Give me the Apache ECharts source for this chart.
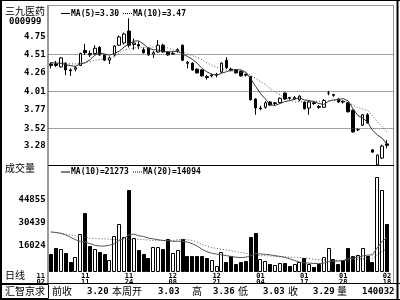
<!DOCTYPE html>
<html><head><meta charset="utf-8">
<script src="https://cdn.jsdelivr.net/npm/echarts@6/dist/echarts.min.js"></script>
<style>html,body{margin:0;padding:0;background:#fff}#c{width:400px;height:300px}</style>
</head><body><div id="c"></div>
<script>
const dates = ['11/02','11/03','11/04','11/05','11/08','11/09','11/10','11/11','11/12','11/15',
'11/16','11/17','11/18','11/19','11/22','11/23','11/24','11/25','11/26','11/29',
'11/30','12/01','12/02','12/03','12/06','12/08','12/09','12/10','12/13','12/14',
'12/15','12/16','12/17','12/20','12/21','12/22','12/23','12/24','12/27','12/28',
'12/29','12/30','12/31','01/04','01/05','01/06','01/07','01/10','01/11','01/12',
'01/13','01/14','01/17','01/18','01/19','01/20','01/21','01/24','01/25','01/26',
'01/28','01/31','02/01','02/02','02/03','02/04','02/07','02/16','02/17','02/18'];
const labelIndex = [0,7,16,25,34,43,52,60,69];
const openP = [4.38,4.38,4.34,4.39,4.30,4.31,4.36,4.56,4.52,4.52,
4.60,4.50,4.43,4.50,4.63,4.66,4.82,4.64,4.64,4.57,
4.59,4.51,4.54,4.63,4.54,4.51,4.55,4.63,4.40,4.39,
4.31,4.30,4.21,4.22,4.23,4.27,4.43,4.31,4.30,4.28,
4.24,4.21,3.91,3.78,3.80,3.87,3.85,3.86,3.99,3.93,
3.91,3.90,3.87,3.79,3.86,3.81,3.80,3.99,3.97,3.91,
3.88,3.86,3.76,3.50,3.56,3.70,3.23,3.03,3.12,3.31];
const closeP = [4.36,4.36,4.46,4.30,4.29,4.33,4.52,4.53,4.50,4.59,
4.50,4.43,4.46,4.62,4.74,4.78,4.63,4.66,4.62,4.53,
4.50,4.53,4.63,4.54,4.50,4.52,4.57,4.43,4.39,4.30,
4.26,4.22,4.20,4.23,4.24,4.39,4.33,4.30,4.26,4.22,
4.23,3.90,3.79,3.79,3.86,3.83,3.86,3.92,3.91,3.92,
3.93,3.95,3.78,3.87,3.85,3.80,3.89,3.99,3.96,3.87,
3.87,3.74,3.47,3.50,3.70,3.59,3.20,3.16,3.28,3.29];
const lowP = [4.32,4.34,4.33,4.23,4.22,4.28,4.35,4.50,4.47,4.50,
4.49,4.42,4.38,4.48,4.62,4.64,4.60,4.57,4.58,4.52,
4.49,4.46,4.53,4.53,4.49,4.50,4.53,4.42,4.32,4.29,
4.25,4.21,4.17,4.20,4.20,4.26,4.31,4.28,4.25,4.21,
4.21,3.89,3.70,3.76,3.78,3.82,3.83,3.85,3.90,3.90,
3.90,3.88,3.77,3.70,3.83,3.78,3.79,3.96,3.94,3.86,
3.85,3.73,3.46,3.48,3.55,3.58,3.19,3.03,3.11,3.25];
const highP = [4.40,4.42,4.47,4.40,4.32,4.35,4.53,4.65,4.56,4.63,
4.62,4.51,4.48,4.63,4.76,4.80,4.99,4.72,4.68,4.60,
4.60,4.55,4.70,4.65,4.55,4.54,4.59,4.64,4.42,4.40,
4.32,4.31,4.23,4.25,4.26,4.40,4.47,4.33,4.31,4.29,
4.25,4.22,3.92,3.82,3.88,3.88,3.87,3.93,4.00,3.94,
3.95,3.96,3.88,3.88,3.88,3.83,3.91,4.02,3.98,3.92,
3.89,3.87,3.77,3.52,3.71,3.72,3.24,3.17,3.30,3.36];
const volume = [10840,14980,13960,11470,6200,9340,23380,36540,16045,14170,
12290,11030,7000,22300,29800,21900,51100,21000,13500,11000,
8500,15600,15600,13900,20200,11500,13500,20200,10000,10000,
10000,10000,8700,7300,3500,12100,6200,9800,4600,6200,
6800,21500,24400,7900,6600,4800,4100,5400,5200,3700,
4800,6200,8300,4800,3100,4600,9300,14600,7900,4800,
7300,14600,9800,10200,15000,9800,6000,59200,51200,29632];
const ma5 = [4.40,4.39,4.39,4.37,4.356,4.348,4.38,4.394,4.436,4.496,
4.53,4.512,4.498,4.52,4.55,4.606,4.646,4.686,4.688,4.646,
4.59,4.57,4.564,4.546,4.54,4.544,4.552,4.512,4.482,4.442,
4.39,4.32,4.274,4.242,4.228,4.254,4.276,4.296,4.302,4.30,
4.268,4.182,4.08,3.984,3.912,3.832,3.824,3.85,3.876,3.888,
3.908,3.926,3.898,3.89,3.876,3.85,3.838,3.88,3.898,3.902,
3.916,3.886,3.782,3.69,3.656,3.60,3.492,3.43,3.386,3.30];
const ma10 = [4.39,4.39,4.39,4.39,4.38,4.38,4.39,4.40,4.41,4.426,
4.439,4.446,4.446,4.478,4.523,4.568,4.579,4.592,4.604,4.598,
4.598,4.608,4.625,4.617,4.593,4.567,4.561,4.538,4.514,4.491,
4.467,4.436,4.393,4.362,4.335,4.322,4.298,4.285,4.272,4.264,
4.261,4.229,4.188,4.143,4.106,4.05,4.003,3.965,3.93,3.90,
3.87,3.875,3.874,3.883,3.882,3.879,3.882,3.889,3.894,3.889,
3.883,3.862,3.831,3.794,3.779,3.758,3.689,3.606,3.538,3.47];
const volMa10 = [24800,24500,24000,23000,21500,20000,19000,18500,17500,16500,
16000,16000,16500,17500,19500,21000,23000,23500,22500,22000,
21000,20500,20000,19500,19500,19000,19000,19000,18500,17500,
16000,14000,12500,11500,11000,10500,10000,9500,9000,8800,
9000,10000,11500,11000,10800,10500,10000,9500,9000,8000,
7000,6000,5500,5300,5100,5000,5300,6200,6500,6600,
7000,8000,8500,9000,9800,10300,10500,15000,19000,21273];
const volMa20 = [25000,24500,24000,23500,23000,22500,22000,21500,21000,20800,
20500,20500,20300,20200,20000,20000,20000,20200,20200,20000,
19800,19500,19500,19400,19500,19500,20000,20200,20000,19500,
18500,17000,16000,15000,14500,14000,13500,13000,12500,12000,
11500,11000,10500,10000,10000,9800,9500,9300,9200,9000,
9000,8800,8500,8200,7800,7500,7300,7200,7000,7000,
7000,7200,7500,7800,8000,8000,8000,10500,12800,14094];
const priceTicks = [3.28,3.52,3.77,4.01,4.26,4.51,4.75];
const priceGridLines = [3.52,4.01,4.51];
const volTicks = [16024,30439,44855];
const weekSummary = {prevClose:'3.20', weekOpen:'3.03', high:'3.36', low:'3.03', close:'3.29', vol:'140032'};

const MONO = '"DejaVu Sans Mono", monospace';
const CJK = '"Noto Sans CJK SC", sans-serif';
const last = a => a[a.length-1];

const chart = echarts.init(document.getElementById('c'), null, {renderer:'canvas', width:400, height:300});
const candleData = openP.map((o,i)=>[o, closeP[i], lowP[i], highP[i]]);
const volData = volume.map((v,i)=>[i, v, closeP[i] >= openP[i] ? 1 : 0]);
const xData = dates.map((d,i)=> i===0 ? {value:d, textStyle:{align:'right', padding:[0,6,0,0]}} : d);

const L = 48.6, CW = 4.87, N = dates.length + 1;
const W = CW * N;

function txt(x,y,s,font){return {type:'text', x:x, y:y, style:{text:s, font:font, fill:'#000', textVerticalAlign:'middle'}, silent:true, z:10};}
function ln(x1,y1,x2,y2,color,w,dash){return {type:'line', shape:{x1:x1,y1:y1,x2:x2,y2:y2}, style:{stroke:color, lineWidth:w||1, lineDash:dash||null}, silent:true, z:5};}

function renderVol(params, api){
  const i = api.value(0), v = api.value(1), up = api.value(2);
  const top = api.coord([i, v]); const base = api.coord([i, 0]);
  const xc = Math.round(top[0]);
  const yt = Math.round(top[1]) + 0.5; const yb = Math.round(base[1]) - 0.5;
  return {type:'rect', shape:{x:xc-1.5, y:yt, width:3, height:Math.max(0, yb-yt)},
    style:{fill: up ? '#fff' : '#000', stroke:'#000', lineWidth:1}};
}

chart.setOption({
  animation:false,
  backgroundColor:'#fff',
  grid:[
    {left:L, top:6, width:W, height:158.8},
    {left:L, top:165, width:W, height:106.6}
  ],
  xAxis:[
    {type:'category', gridIndex:0, data:dates, max:N-1, boundaryGap:true, axisLine:{show:false}, axisTick:{show:false}, axisLabel:{show:false}, splitLine:{show:false}},
    {type:'category', gridIndex:1, data:xData, max:N-1, boundaryGap:true, axisLine:{show:false}, axisTick:{show:false}, splitLine:{show:false},
     axisLabel:{show:true, interval:(i)=>labelIndex.indexOf(i)>=0, margin:1, color:'#000', fontFamily:MONO, fontWeight:'bold', fontSize:7, lineHeight:6.5,
       formatter:(v)=>v.replace('/','\n')}}
  ],
  yAxis:[
    {type:'value', gridIndex:0, min:3.03, max:5.155, axisLine:{show:false}, axisTick:{show:false}, splitLine:{show:false},
     axisLabel:{show:true, customValues:priceTicks, formatter:(v)=>v.toFixed(2), margin:3, color:'#000', fontFamily:MONO, fontWeight:'bold', fontSize:9}},
    {type:'value', gridIndex:1, min:0, max:66813, axisLine:{show:false}, axisTick:{show:false}, splitLine:{show:false},
     axisLabel:{show:true, customValues:volTicks, formatter:(v)=>String(Math.round(v)), margin:3, color:'#000', fontFamily:MONO, fontWeight:'bold', fontSize:9}}
  ],
  series:[
    {type:'candlestick', xAxisIndex:0, yAxisIndex:0, data:candleData, barWidth:3,
     itemStyle:{color:'#fff', color0:'#000', borderColor:'#000', borderColor0:'#000', borderWidth:1},
     markLine:{silent:true, symbol:['none','none'], label:{show:false}, lineStyle:{type:[1,1], color:'#444', width:1},
       data: priceGridLines.map(v=>({yAxis:v}))}},
    {type:'line', xAxisIndex:0, yAxisIndex:0, data:ma5, symbol:'none', lineStyle:{color:'#333', width:1}},
    {type:'line', xAxisIndex:0, yAxisIndex:0, data:ma10, symbol:'none', lineStyle:{color:'#555', width:1, type:[1,2]}},
    {type:'custom', xAxisIndex:1, yAxisIndex:1, data:volData, renderItem:renderVol, encode:{x:0, y:1}},
    {type:'line', xAxisIndex:1, yAxisIndex:1, data:volMa10, symbol:'none', lineStyle:{color:'#555', width:1}, z:3},
    {type:'line', xAxisIndex:1, yAxisIndex:1, data:volMa20, symbol:'none', lineStyle:{color:'#555', width:1, type:[1,2]}, z:3}
  ],
  graphic:[
    ln(1,0,1,300,'#000',2),
    ln(0,0.5,400,0.5,'#000',1),
    ln(397.5,0,397.5,300,'#000',2),
    ln(48,5,48,283,'#999',2),
    ln(48,5.5,394,5.5,'#999',1),
    ln(393.5,5,393.5,283,'#999',1),
    ln(48,165.5,394,165.5,'#000',1),
    ln(0,283.5,400,283.5,'#000',1),
    ln(0,299.5,400,299.5,'#000',1),
    {type:'rect', shape:{x:1.5,y:284.5,width:47,height:14}, style:{stroke:'#000', fill:null, lineWidth:1}, silent:true, z:5},
    txt(5,11,'三九医药','10px '+CJK),
    txt(9,22,'000999','bold 9px '+MONO),
    ln(61,13.5,70,13.5,'#000',1),
    txt(71,13.5,'MA(5)='+last(ma5).toFixed(2),'bold 8px '+MONO),
    ln(123,13.5,132,13.5,'#000',1,[1,1]),
    txt(133,13.5,'MA(10)='+last(ma10).toFixed(2),'bold 8px '+MONO),
    txt(5,168.5,'成交量','10px '+CJK),
    ln(61,172,70,172,'#000',1),
    txt(71,172,'MA(10)='+last(volMa10),'bold 8px '+MONO),
    ln(133,172,142,172,'#000',1,[1,1]),
    txt(143,172,'MA(20)='+last(volMa20),'bold 8px '+MONO),
    txt(5,275.5,'日线','10px '+CJK),
    txt(5,291.5,'汇智京求','10px '+CJK),
    txt(52,291.5,'前收','10px '+CJK),
    txt(87,291.5,weekSummary.prevClose,'bold 9px '+MONO),
    txt(112,291.5,'本周开','10px '+CJK),
    txt(158,291.5,weekSummary.weekOpen,'bold 9px '+MONO),
    txt(192,291.5,'高','10px '+CJK),
    txt(213,291.5,weekSummary.high,'bold 9px '+MONO),
    txt(238,291.5,'低','10px '+CJK),
    txt(263,291.5,weekSummary.low,'bold 9px '+MONO),
    txt(288,291.5,'收','10px '+CJK),
    txt(313,291.5,weekSummary.close,'bold 9px '+MONO),
    txt(337,291.5,'量','10px '+CJK),
    txt(362,291.5,weekSummary.vol,'bold 9px '+MONO)
  ]
});
</script>
</body></html>
